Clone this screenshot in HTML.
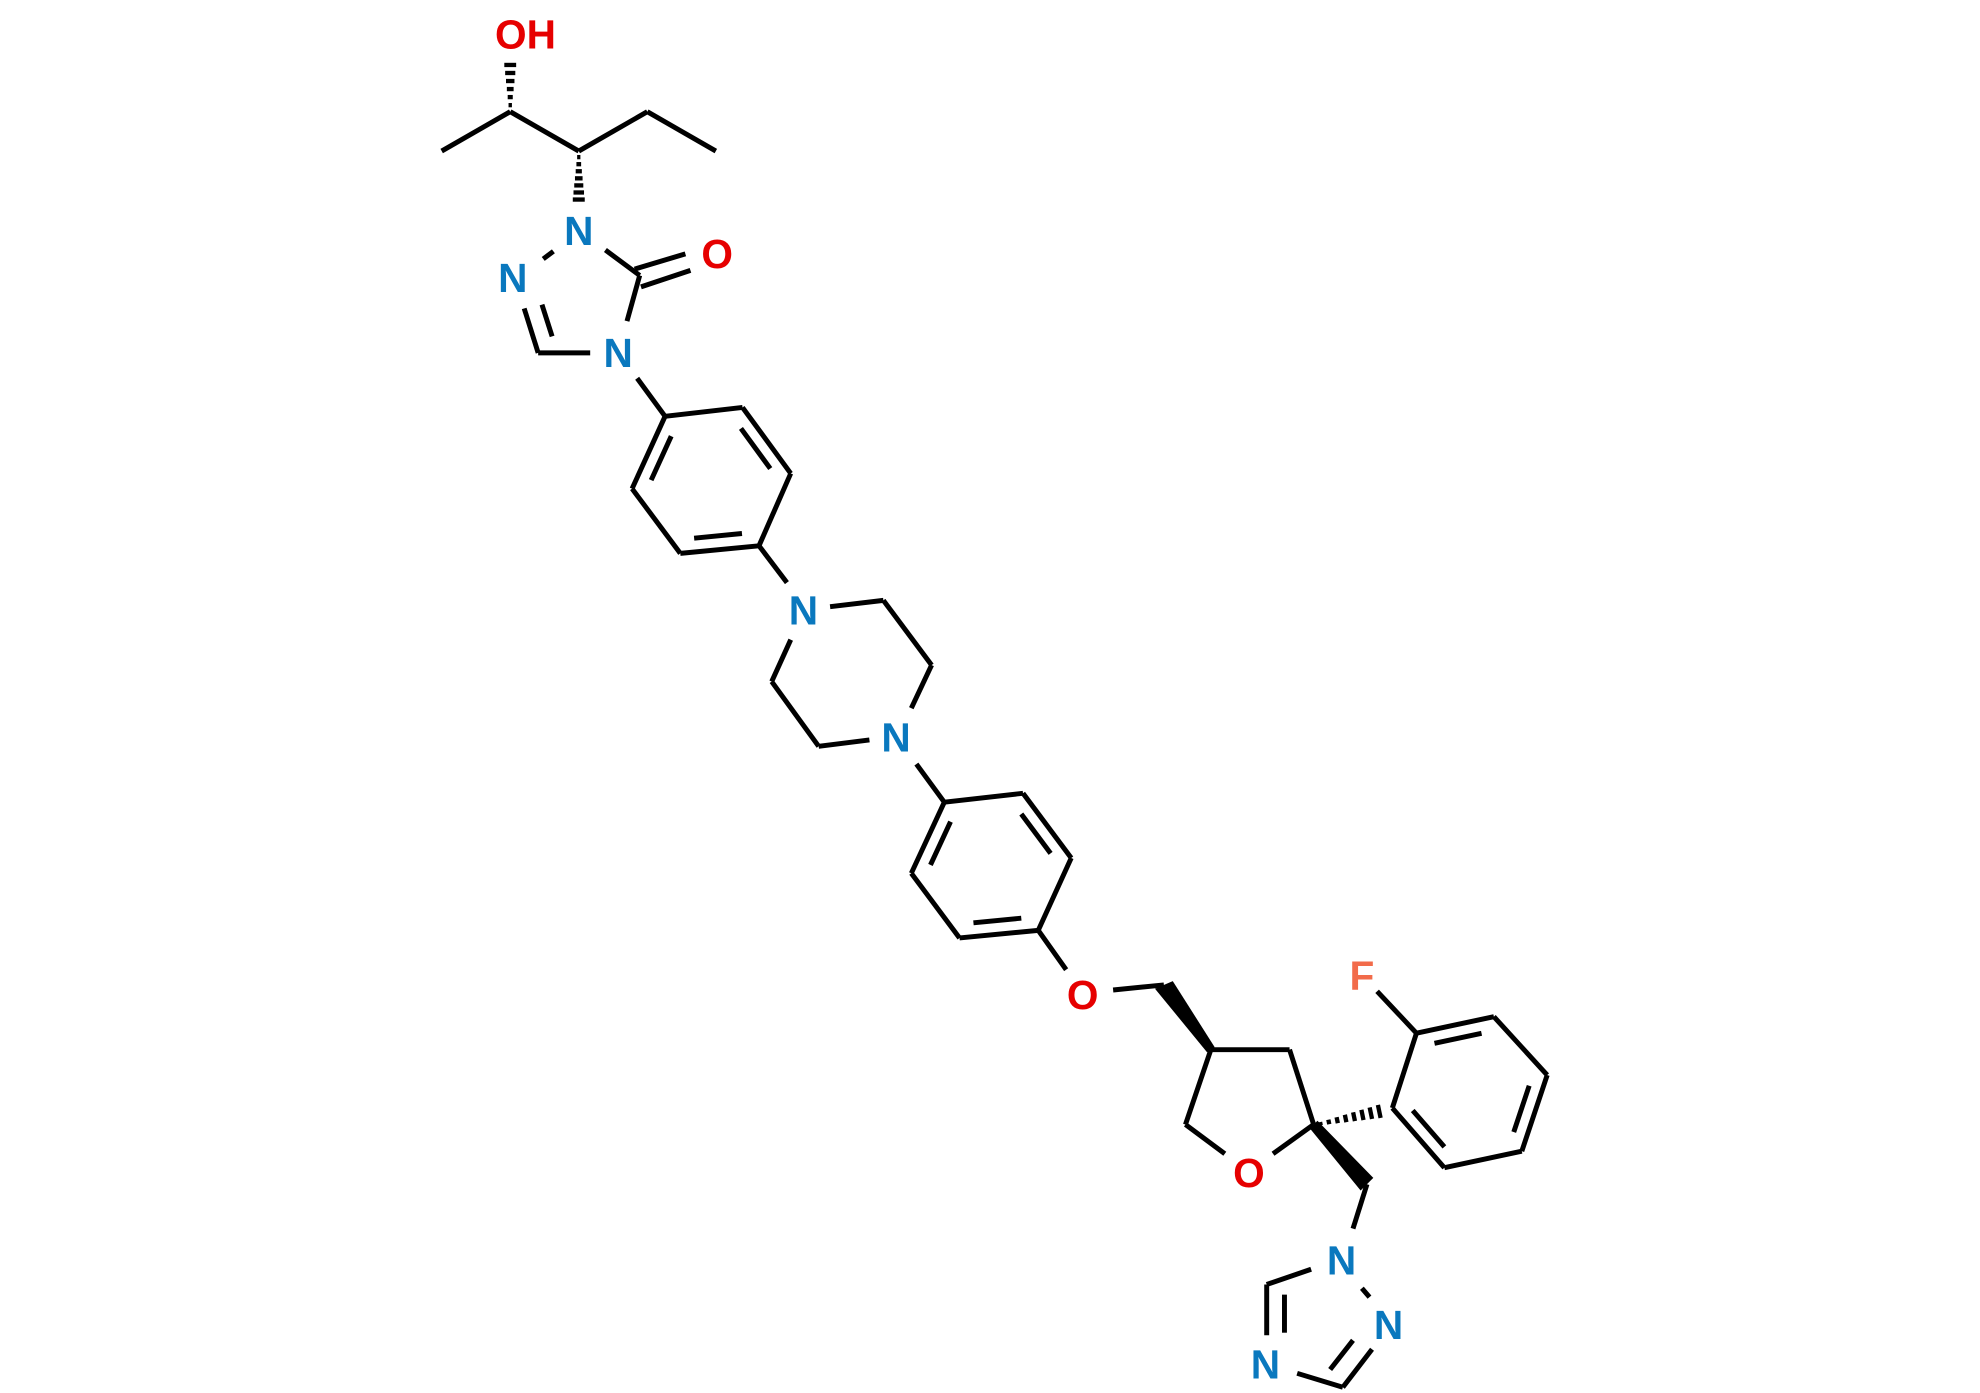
<!DOCTYPE html>
<html><head><meta charset="utf-8"><style>
html,body{margin:0;padding:0;background:#fff;}
svg{display:block}
text{font-family:"Liberation Sans",sans-serif;font-size:32px;font-weight:bold;text-anchor:middle;dominant-baseline:central}
</style></head><body>
<svg id="s" width="1980" height="1393" viewBox="0 0 1560 1097.5" xmlns="http://www.w3.org/2000/svg">
<g id="b" stroke="#000" stroke-width="3.9" stroke-linecap="butt" fill="none">
<line x1="348" y1="119" x2="402" y2="88"/>
<line x1="402" y1="88" x2="456" y2="119"/>
<line x1="456" y1="119" x2="510" y2="88"/>
<line x1="510" y1="88" x2="564" y2="119"/>
<line x1="428" y1="204" x2="436" y2="198"/>
<line x1="477" y1="197" x2="504" y2="217"/>
<line x1="500" y1="212" x2="540" y2="200"/>
<line x1="505" y1="226" x2="544" y2="213"/>
<line x1="504" y1="217" x2="494" y2="253"/>
<line x1="465" y1="278" x2="424" y2="278"/>
<line x1="424" y1="278" x2="413" y2="243"/>
<line x1="435" y1="265" x2="427" y2="240"/>
<line x1="502" y1="298" x2="524" y2="328"/>
<line x1="598" y1="430" x2="620" y2="459"/>
<line x1="654" y1="478" x2="696" y2="473"/>
<line x1="696" y1="473" x2="734" y2="524"/>
<line x1="734" y1="524" x2="718" y2="558"/>
<line x1="685" y1="583" x2="645" y2="588"/>
<line x1="645" y1="588" x2="608" y2="537"/>
<line x1="608" y1="537" x2="623" y2="504"/>
<line x1="722" y1="602" x2="744" y2="632"/>
<line x1="818" y1="733" x2="840" y2="764"/>
<line x1="877" y1="780" x2="917" y2="776"/>
<line x1="954" y1="827" x2="1016" y2="827"/>
<line x1="1016" y1="827" x2="1035" y2="886"/>
<line x1="1035" y1="886" x2="1003" y2="909"/>
<line x1="965" y1="909" x2="934" y2="886"/>
<line x1="934" y1="886" x2="954" y2="827"/>
<line x1="1085" y1="781" x2="1116" y2="814"/>
<line x1="1077" y1="933" x2="1066" y2="968"/>
<line x1="1033" y1="1000" x2="998" y2="1012"/>
<line x1="998" y1="1012" x2="998" y2="1052"/>
<line x1="1012" y1="1020" x2="1012" y2="1050"/>
<line x1="1022" y1="1082" x2="1058" y2="1093"/>
<line x1="1058" y1="1093" x2="1081" y2="1063"/>
<line x1="1048" y1="1079" x2="1066" y2="1056"/>
<line x1="1073" y1="1015" x2="1079" y2="1022"/>
</g>
<g fill="#000">
<polygon points="910,779 924,773 957,825 951,829"/>
<polygon points="1032,889 1038,883 1082,928 1072,938"/>
</g>
<g id="h" stroke="#000" stroke-width="3.4"></g>
<text x="414" y="27" fill="#e60000">OH</text>
<text x="456" y="182" fill="#0a78be">N</text>
<text x="404" y="219" fill="#0a78be">N</text>
<text x="487" y="278" fill="#0a78be">N</text>
<text x="565" y="200" fill="#e60000">O</text>
<text x="633" y="481" fill="#0a78be">N</text>
<text x="706" y="581" fill="#0a78be">N</text>
<text x="853" y="784" fill="#e60000">O</text>
<text x="984" y="924" fill="#e60000">O</text>
<text x="1073" y="769" fill="#f26b4a">F</text>
<text x="1057" y="993" fill="#0a78be">N</text>
<text x="1094" y="1044" fill="#0a78be">N</text>
<text x="997" y="1075" fill="#0a78be">N</text>
</svg>
<script>
var NS="http://www.w3.org/2000/svg",b=document.getElementById('b'),h=document.getElementById('h');
function L(x1,y1,x2,y2){var l=document.createElementNS(NS,'line');l.setAttribute('x1',x1);l.setAttribute('y1',y1);l.setAttribute('x2',x2);l.setAttribute('y2',y2);b.appendChild(l);}
function ring(p,dbl){var cx=0,cy=0;p.forEach(function(q){cx+=q[0];cy+=q[1];});cx/=p.length;cy/=p.length;
for(var i=0;i<p.length;i++){var a=p[i],c=p[(i+1)%p.length];L(a[0],a[1],c[0],c[1]);
if(dbl.indexOf(i)>=0){var sh=0.12;var ax=a[0]+(cx-a[0])*0.2,ay=a[1]+(cy-a[1])*0.2,bx=c[0]+(cx-c[0])*0.2,by=c[1]+(cy-c[1])*0.2;
L(ax+(bx-ax)*sh,ay+(by-ay)*sh,bx-(bx-ax)*sh,by-(by-ay)*sh);}}}
ring([[524,328],[585,321],[623,373],[598,430],[536,436],[498,385]],[1,3,5]);
ring([[744,632],[806,625],[844,676],[818,733],[756,739],[718,688]],[1,3,5]);
ring([[1097,873],[1116,814],[1177,801],[1219,847],[1199,907],[1138,920]],[1,3,5]);
function hash(x1,y1,x2,y2,n,w0,w1){var dx=x2-x1,dy=y2-y1,len=Math.hypot(dx,dy),px=-dy/len,py=dx/len;
for(var i=0;i<n;i++){var t=(i+0.5)/n,x=x1+dx*t,y=y1+dy*t,w=(w0+(w1-w0)*t)/2;var l=document.createElementNS(NS,'line');
l.setAttribute('x1',x-px*w);l.setAttribute('y1',y-py*w);l.setAttribute('x2',x+px*w);l.setAttribute('y2',y+py*w);h.appendChild(l);}}
hash(402,86,402,48,6,2,10);
hash(456,121,456,160,7,2,10);
hash(1037,886,1090,875,8,2,11);
</script>
</body></html>
